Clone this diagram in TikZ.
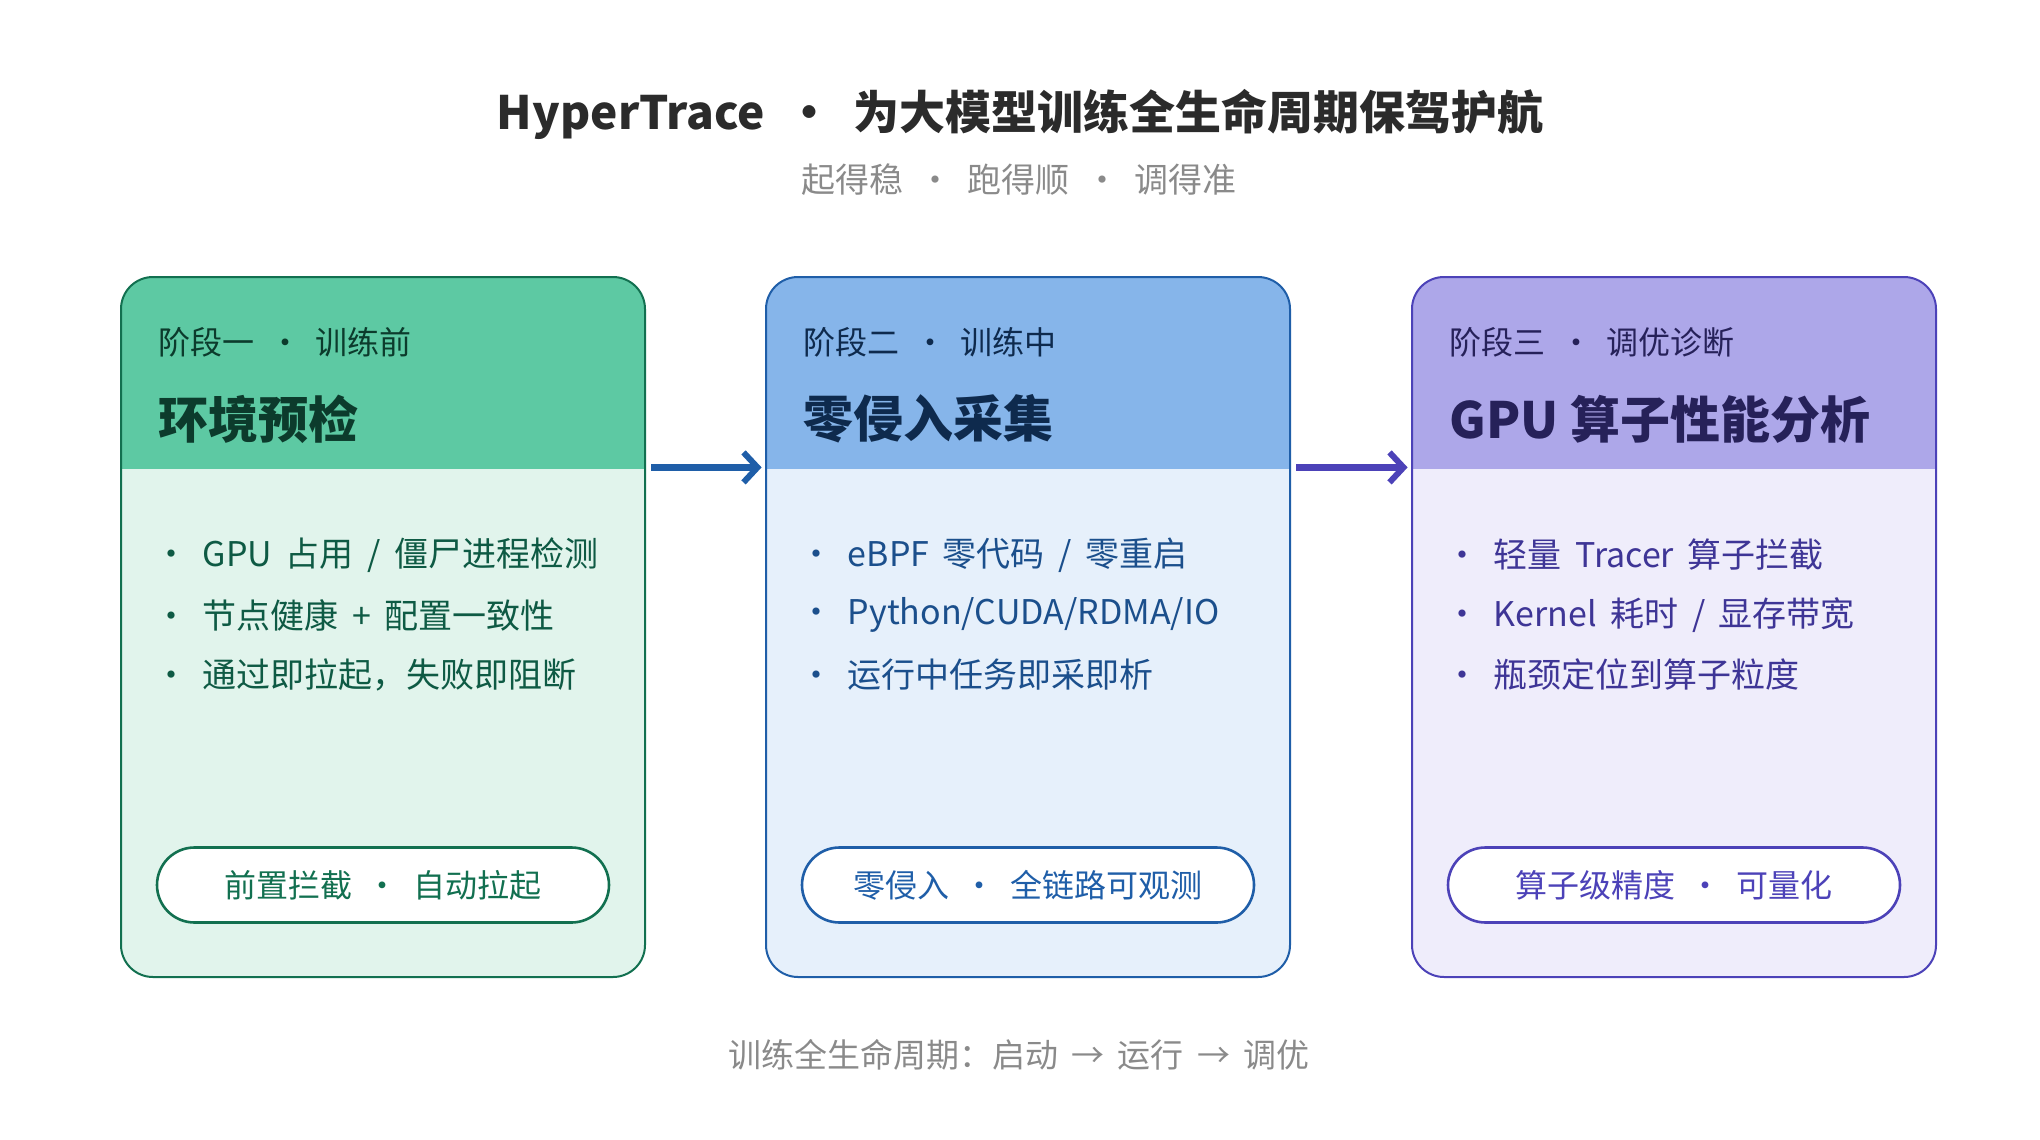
\documentclass[tikz,border=0pt]{standalone}
\usepackage{fontspec}
\setmainfont{Noto Sans CJK SC}
\usetikzlibrary{arrows.meta}
\newcommand\widespaces{\spaceskip=0.4em\relax}

\definecolor{inkdark}{RGB}{43,43,43}
\definecolor{inkgray}{RGB}{138,138,138}
% stage one (green)
\definecolor{grnhead}{RGB}{93,201,163}
\definecolor{grnbody}{RGB}{225,244,236}
\definecolor{grnline}{RGB}{18,112,80}
\definecolor{grntitle}{RGB}{12,59,44}
\definecolor{grntext}{RGB}{14,90,68}
% stage two (blue)
\definecolor{bluhead}{RGB}{134,181,234}
\definecolor{blubody}{RGB}{230,240,251}
\definecolor{bluline}{RGB}{31,94,168}
\definecolor{blutitle}{RGB}{14,42,77}
\definecolor{blutext}{RGB}{27,79,140}
% stage three (purple)
\definecolor{purhead}{RGB}{173,167,233}
\definecolor{purbody}{RGB}{239,237,251}
\definecolor{purline}{RGB}{76,66,184}
\definecolor{purtitle}{RGB}{38,33,89}
\definecolor{purtext}{RGB}{62,53,150}

\begin{document}
\begin{tikzpicture}[x=0.5pt,y=0.5pt,yscale=-1,xscale=1,
  cardbox/.style={rectangle,rounded corners=16pt,line width=1pt,minimum width=262pt,minimum height=350pt,inner sep=0pt},
  headbox/.style={rectangle,minimum width=262pt,minimum height=96pt,inner sep=0pt},
  stagetxt/.style={anchor=west,inner sep=0.75pt,font=\fontsize{16}{19}\selectfont},
  titletxt/.style={anchor=west,inner sep=0.75pt,font=\fontsize{25}{30}\selectfont\bfseries},
  bullettxt/.style={anchor=west,inner sep=0.75pt,font=\fontsize{17}{20}\selectfont\widespaces},
  pill/.style={rectangle,rounded corners=18.75pt,line width=1.3pt,fill=white,minimum width=226pt,minimum height=37.5pt,font=\fontsize{16}{19}\selectfont},
  flow/.style={line width=3.2pt,-{Straight Barb[length=7pt,width=15pt,line width=3pt]}}]
\useasboundingbox (0,0) rectangle (2040,1140);

% Text Node
\draw (1020,114) node [inner sep=0.75pt,font=\fontsize{23}{27}\selectfont\bfseries,color=inkdark] (title) {HyperTrace\ \ ·\ \ 为大模型训练全生命周期保驾护航};
% Text Node
\draw (1019,180) node [inner sep=0.75pt,font=\fontsize{17}{20}\selectfont,color=inkgray] (motto) {起得稳\ \ ·\ \ 跑得顺\ \ ·\ \ 调得准};

%Shape: Card [stage one]
\begin{scope}
\clip [rounded corners=16pt] (121,277) rectangle (645,977);
\fill [grnbody] (121,277) rectangle (645,977);
\node [headbox,fill=grnhead] (head1) at (383,373) {};
\end{scope}
\node [cardbox,draw=grnline] (card1) at (383,627) {};
% Text Node
\draw (157,342) node [stagetxt,color=grntitle] (stage1) {阶段一\ \ ·\ \ 训练前};
\draw (157,419) node [titletxt,color=grntitle] (name1) {环境预检};
\foreach \t [count=\i] in {GPU 占用 / 僵尸进程检测, 节点健康 + 配置一致性, 通过即拉起，失败即阻断}
  \draw (153,495+60*\i) node [bullettxt,color=grntext] (b1-\i) {·\hspace{7pt}\t};
\node [pill,draw=grnline,text=grnline] (pill1) at (383,885) {前置拦截\ \ ·\ \ 自动拉起};

%Shape: Card [stage two]
\begin{scope}
\clip [rounded corners=16pt] (766,277) rectangle (1290,977);
\fill [blubody] (766,277) rectangle (1290,977);
\node [headbox,fill=bluhead] (head2) at (1028,373) {};
\end{scope}
\node [cardbox,draw=bluline] (card2) at (1028,627) {};
% Text Node
\draw (802,342) node [stagetxt,color=blutitle] (stage2) {阶段二\ \ ·\ \ 训练中};
\draw (802,419) node [titletxt,color=blutitle] (name2) {零侵入采集};
\foreach \t [count=\i] in {eBPF 零代码 / 零重启, Python/CUDA/RDMA/IO, 运行中任务即采即析}
  \draw (798,495+60*\i) node [bullettxt,color=blutext] (b2-\i) {·\hspace{7pt}\t};
\node [pill,draw=bluline,text=bluline] (pill2) at (1028,885) {零侵入\ \ ·\ \ 全链路可观测};

%Shape: Card [stage three]
\begin{scope}
\clip [rounded corners=16pt] (1412,277) rectangle (1936,977);
\fill [purbody] (1412,277) rectangle (1936,977);
\node [headbox,fill=purhead] (head3) at (1674,373) {};
\end{scope}
\node [cardbox,draw=purline] (card3) at (1674,627) {};
% Text Node
\draw (1448,342) node [stagetxt,color=purtitle] (stage3) {阶段三\ \ ·\ \ 调优诊断};
\draw (1448,419) node [titletxt,color=purtitle] (name3) {GPU 算子性能分析};
\foreach \t [count=\i] in {轻量 Tracer 算子拦截, Kernel 耗时 / 显存带宽, 瓶颈定位到算子粒度}
  \draw (1444,495+60*\i) node [bullettxt,color=purtext] (b3-\i) {·\hspace{7pt}\t};
\node [pill,draw=purline,text=purline] (pill3) at (1674,885) {算子级精度\ \ ·\ \ 可量化};

%Straight Lines [arrows between stages]
\draw [flow,draw=bluline] ([xshift=3pt,yshift=-1pt]head1.south east) -- ([xshift=-2pt,yshift=-1pt]head2.south west);
\draw [flow,draw=purline] ([xshift=3pt,yshift=-1pt]head2.south east) -- ([xshift=-2pt,yshift=-1pt]head3.south west);

% Text Node
\draw (1019,1055) node [inner sep=0.75pt,font=\fontsize{16.5}{19}\selectfont\widespaces,color=inkgray] (footer) {训练全生命周期：启动 → 运行 → 调优};

\end{tikzpicture}
\end{document}
